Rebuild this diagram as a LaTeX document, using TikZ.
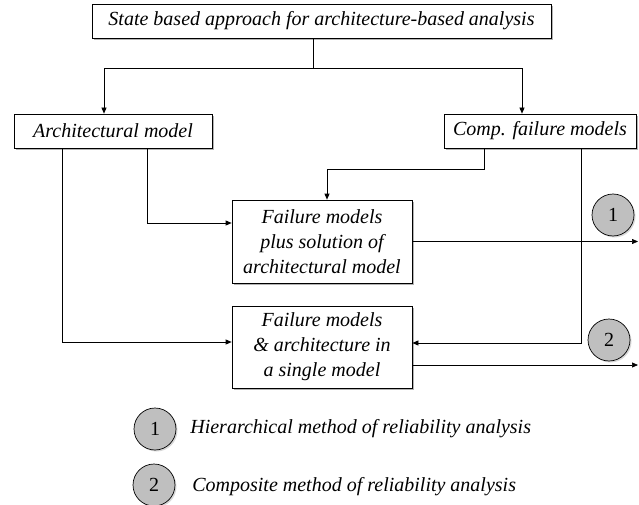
\documentclass[tikz,border=0pt]{standalone}
\usepackage{fontspec}
\setmainfont{Liberation Serif}
\usetikzlibrary{arrows.meta,shadows}

\begin{document}
\begin{tikzpicture}[x=1pt,y=-1pt,line width=0.7pt,
  >={Triangle[length=6pt,width=5pt]},
  box/.style={draw,fill=white,inner sep=0pt,align=center,
    font=\fontsize{20}{25}\selectfont\itshape,
    drop shadow={shadow xshift=2pt,shadow yshift=-2pt,fill=black!50,opacity=0.6}},
  num/.style={draw,circle,fill=black!25,minimum size=42pt,inner sep=0pt,
    font=\fontsize{20}{24}\selectfont,
    drop shadow={shadow xshift=1.5pt,shadow yshift=-1.5pt,fill=black!30,opacity=0.5}},
  legend/.style={anchor=west,inner sep=0pt,font=\fontsize{20}{24}\selectfont\itshape}]
\useasboundingbox (0,0) rectangle (639,505);
\node[box,minimum width=459pt,minimum height=34pt] (top) at (321.5,21) {State based approach for architecture-based analysis};
\node[box,minimum width=198pt,minimum height=34pt] (arch) at (113,131) {Architectural model};
\node[box,minimum width=192pt,minimum height=34pt] (comp) at (540,131) {Comp. failure models};
\node[box,minimum width=180pt,minimum height=83pt] (fm1) at (322,241.5) {Failure models\\plus solution of\\architectural model};
\node[box,minimum width=180pt,minimum height=82pt] (fm2) at (322,347) {Failure models\\\& architecture in\\a single model};
\node[num] (n1) at (613,215) {1};
\node[num] (n2) at (609,340) {2};
\node[num] (l1) at (155,429) {1};
\node[num] (l2) at (154,485) {2};
\node[legend] (t1) at (190,429) {Hierarchical method of reliability analysis};
\node[legend] (t2) at (192,487) {Composite method of reliability analysis};
% top splits to the two models
\draw ([xshift=-8.5pt]top.south) -- ++(0,30) coordinate (split);
\draw[->] (split) -| ([xshift=-9pt]arch.north);
\draw[->] (split) -| ([xshift=-18pt]comp.north);
% inputs of the two methods
\draw[->] ([xshift=34pt]arch.south) |- ([yshift=18.5pt]fm1.west);
\draw[->] ([xshift=-56pt]comp.south) -- ++(0,21) -| ([xshift=5pt]fm1.north);
\draw[->] ([xshift=-51pt]arch.south) |- ([yshift=5pt]fm2.west);
\draw[->] ([xshift=41pt]comp.south) |- ([yshift=4pt]fm2.east);
% outputs
\coordinate (end) at (638,0);
\draw[->] (fm1.east) -- (fm1.east -| end);
\draw[->] ([yshift=-18pt]fm2.east) -- ([yshift=-18pt]fm2.east -| end);
\end{tikzpicture}
\end{document}
